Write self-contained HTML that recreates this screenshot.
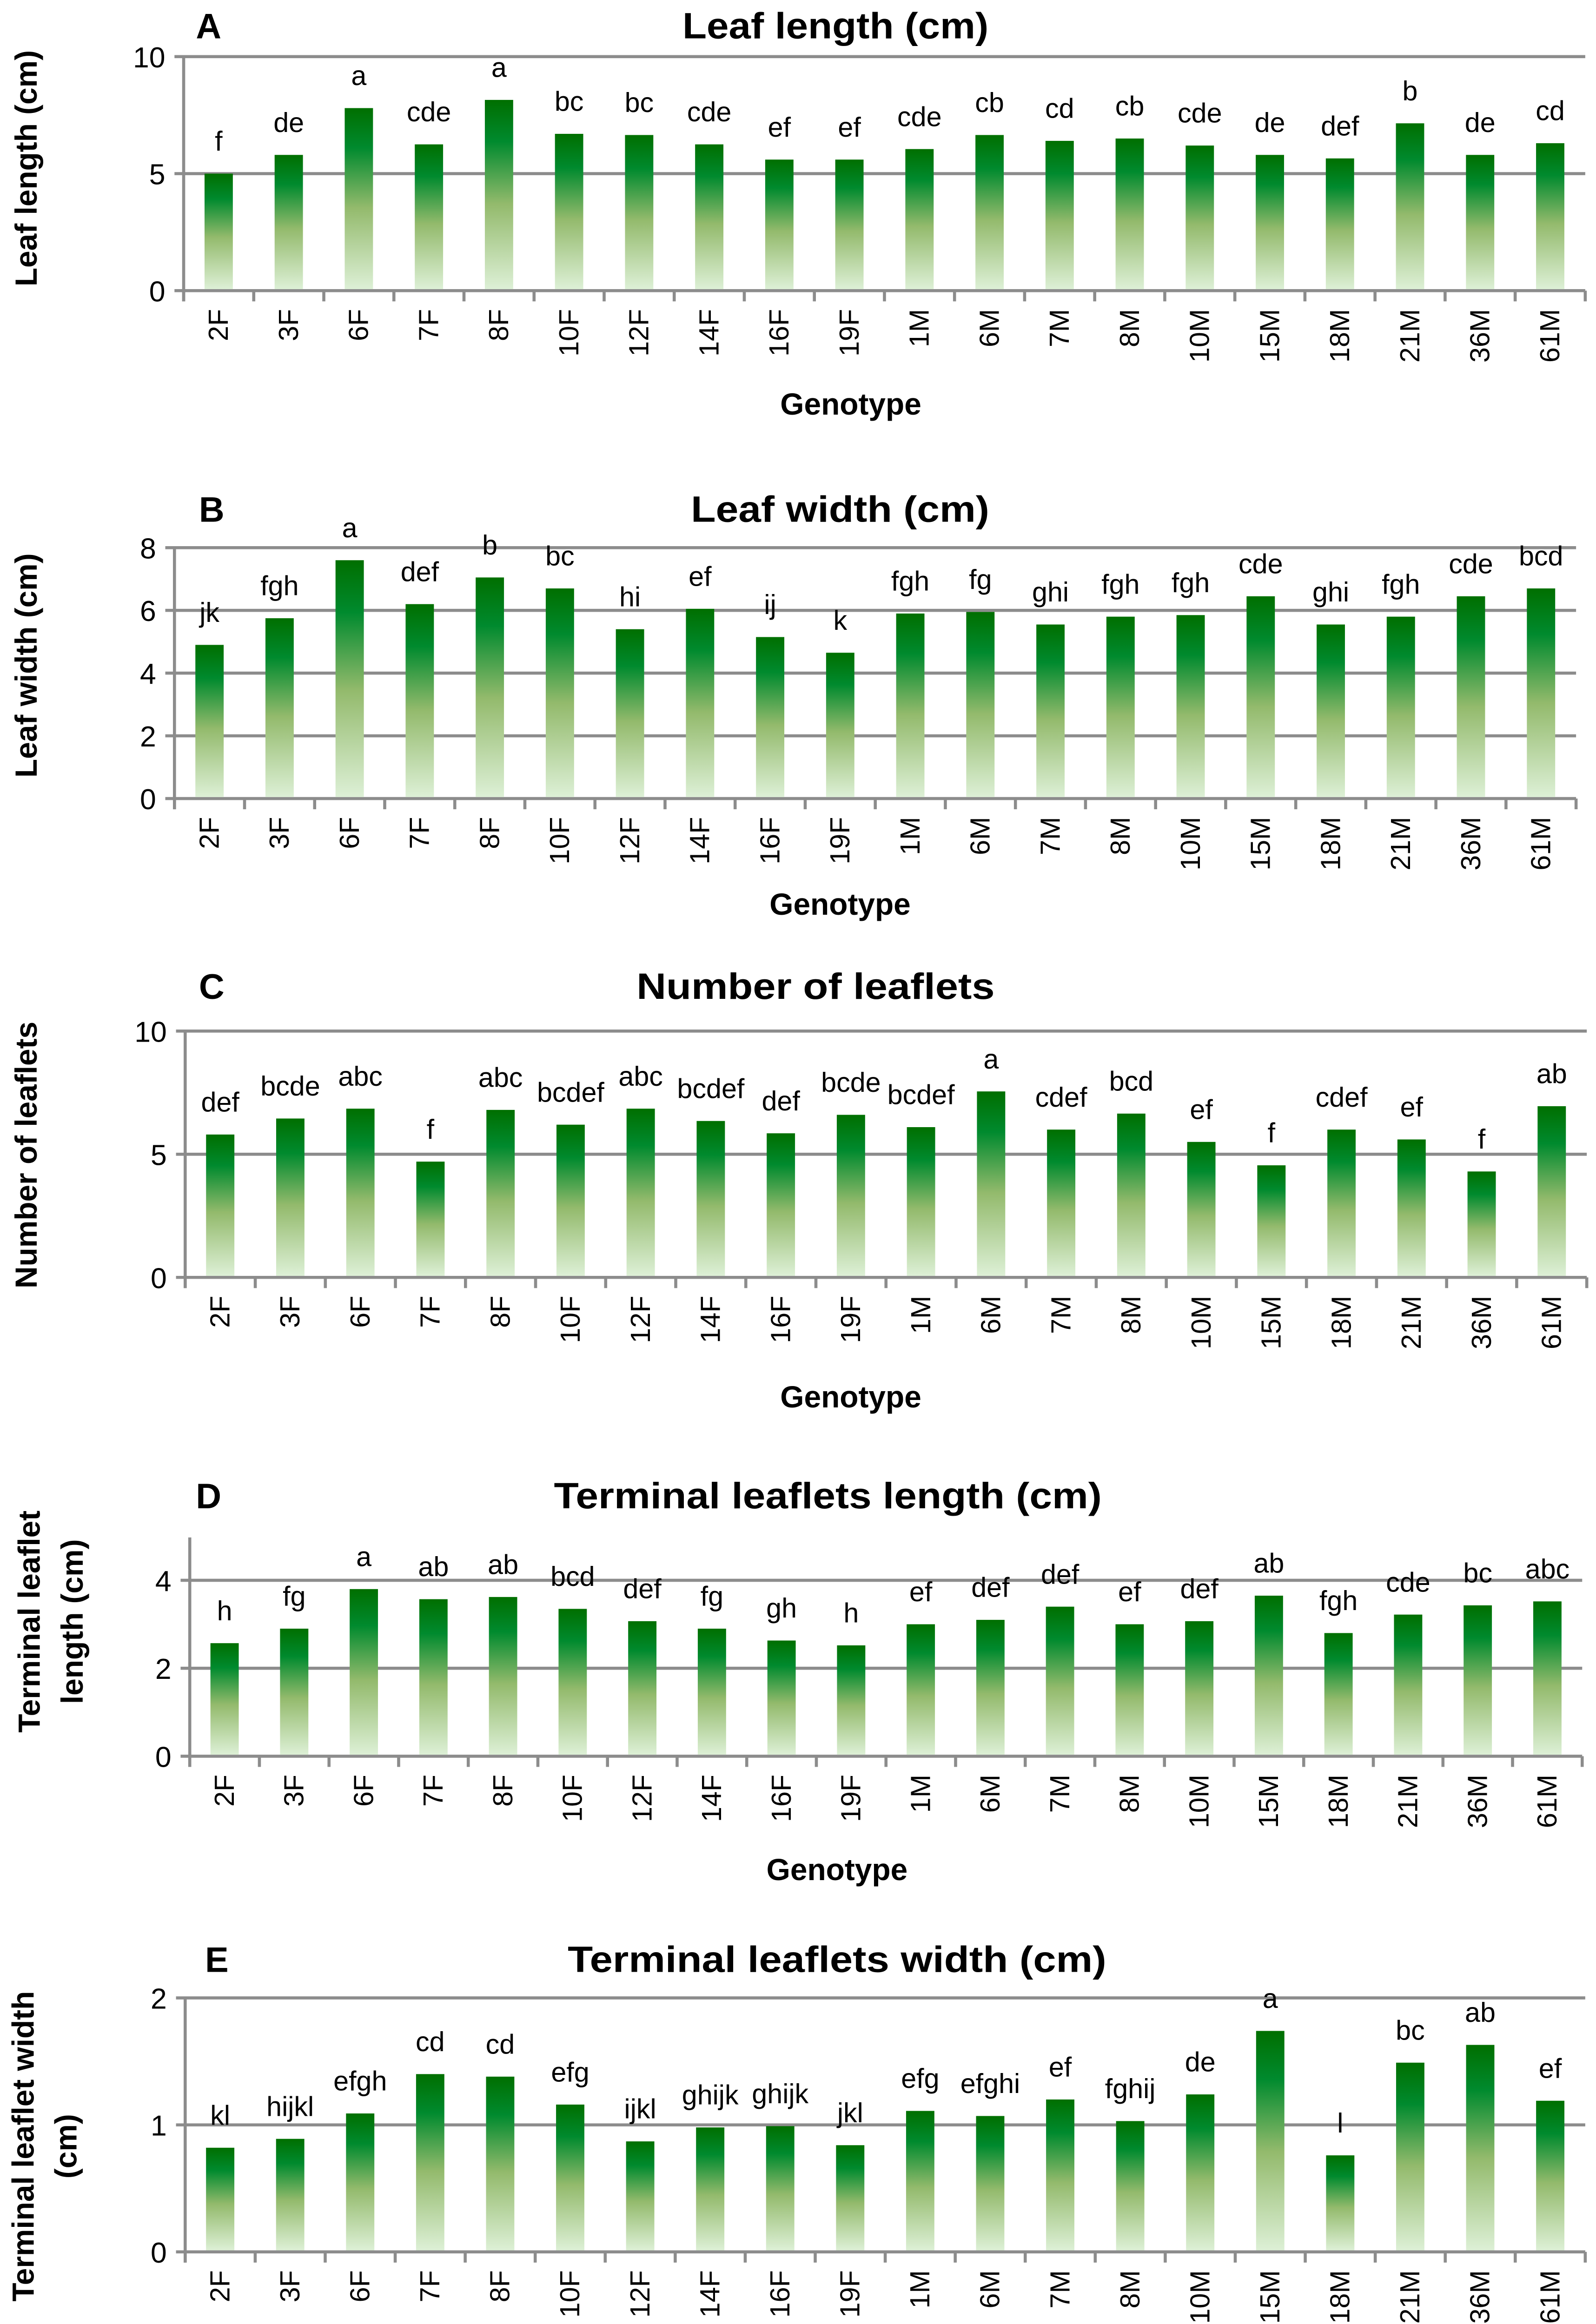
<!DOCTYPE html>
<html><head><meta charset="utf-8"><style>
html,body{margin:0;padding:0;background:#fff;overflow:hidden;width:3433px;height:5141px}
svg{display:block}
text{font-family:"Liberation Sans",sans-serif;fill:#000}
</style></head><body>
<svg id="fig" xmlns="http://www.w3.org/2000/svg" width="3433" height="5141" viewBox="0 0 1043 1562" overflow="hidden">
<defs>
<linearGradient id="barGrad" x1="0" y1="0" x2="0" y2="1">
<stop offset="0" stop-color="#006f00"/>
<stop offset="0.22" stop-color="#008a2e"/>
<stop offset="0.55" stop-color="#93ba6c"/>
<stop offset="1" stop-color="#ddf0d6"/>
</linearGradient>
</defs>
</svg>
<script>
const categories=["2F","3F","6F","7F","8F","10F","12F","14F","16F","19F","1M","6M","7M","8M","10M","15M","18M","21M","36M","61M"];
const valuesA=[5.0,5.8,7.8,6.25,8.15,6.7,6.65,6.25,5.6,5.6,6.05,6.65,6.4,6.5,6.2,5.8,5.65,7.15,5.8,6.3];
const lettersA=["f","de","a","cde","a","bc","bc","cde","ef","ef","cde","cb","cd","cb","cde","de","def","b","de","cd"];
const ticksA=[0,5,10];
const valuesB=[4.9,5.75,7.6,6.2,7.05,6.7,5.4,6.05,5.15,4.65,5.9,5.95,5.55,5.8,5.85,6.45,5.55,5.8,6.45,6.7];
const lettersB=["jk","fgh","a","def","b","bc","hi","ef","ij","k","fgh","fg","ghi","fgh","fgh","cde","ghi","fgh","cde","bcd"];
const ticksB=[0,2,4,6,8];
const valuesC=[5.8,6.45,6.85,4.7,6.8,6.2,6.85,6.35,5.85,6.6,6.1,7.55,6.0,6.65,5.5,4.55,6.0,5.6,4.3,6.95];
const lettersC=["def","bcde","abc","f","abc","bcdef","abc","bcdef","def","bcde","bcdef","a","cdef","bcd","ef","f","cdef","ef","f","ab"];
const ticksC=[0,5,10];
const valuesD=[2.57,2.9,3.8,3.57,3.62,3.35,3.07,2.9,2.63,2.52,3.0,3.1,3.4,3.0,3.07,3.65,2.8,3.22,3.43,3.52];
const lettersD=["h","fg","a","ab","ab","bcd","def","fg","gh","h","ef","def","def","ef","def","ab","fgh","cde","bc","abc"];
const ticksD=[0,2,4];
const valuesE=[0.82,0.89,1.09,1.40,1.38,1.16,0.87,0.98,0.99,0.84,1.11,1.07,1.20,1.03,1.24,1.74,0.76,1.49,1.63,1.19];
const lettersE=["kl","hijkl","efgh","cd","cd","efg","ijkl","ghijk","ghijk","jkl","efg","efghi","ef","fghij","de","a","l","bc","ab","ef"];
const ticksE=[0,1,2];

const NS="http://www.w3.org/2000/svg";
const svg=document.getElementById('fig');
function mk(tag,attrs,parent,txt){const e=document.createElementNS(NS,tag);for(const k in attrs)e.setAttribute(k,attrs[k]);if(txt!==undefined)e.textContent=txt;parent.appendChild(e);return e;}

function chart(cfg){
  const g=mk('g',{},svg);
  
  
  const L=cfg.left,R=cfg.right,T=cfg.top,B=cfg.bottom;
  const maxV=cfg.max;
  const y=v=>B-(v/maxV)*(B-T);
  const n=categories.length, step=(R-L)/n;
  const x=i=>L+step*(i+0.5);
  cfg.ticks.forEach(t=>{
    const yy=y(t);
    const ln=mk('line',{x1:L-6,x2:R,y1:yy,y2:yy,stroke:'#8c8c8c','stroke-width':2},g);
    
    
    const tl=mk('text',{x:L-12,y:yy+7,'text-anchor':'end','font-size':19},g,String(t));
    
    
  });
  const ax=mk('line',{x1:L,x2:L,y1:cfg.axisTop,y2:B+7,stroke:'#8c8c8c','stroke-width':2},g);
  
  
  for(let i=0;i<=n;i++){
    const tk=mk('line',{x1:L+step*i,x2:L+step*i,y1:B,y2:B+7,stroke:'#8c8c8c','stroke-width':2},g);
    
    
  }
  const bw=18.5;
  cfg.values.forEach((v,i)=>{
    const r=mk('rect',{x:x(i)-bw/2,y:y(v),width:bw,height:B-y(v)-1,fill:'url(#barGrad)'},g);
    
    
    const lt=mk('text',{x:x(i),y:y(v)-15,'text-anchor':'middle','font-size':18},g,cfg.letters[i]);
    
    
    const cx=x(i)+6, cy=B+12;
    const ct=mk('text',{x:cx,y:cy,'text-anchor':'end','font-size':18,transform:`rotate(-90 ${cx} ${cy})`},g,categories[i]);
    
    
  });
  const tt=mk('text',{x:cfg.titleX,y:cfg.titleY,'text-anchor':'middle','font-size':24,'font-weight':'bold','textLength':cfg.titleW,'lengthAdjust':'spacingAndGlyphs'},g,cfg.title);
  
  
  const pl=mk('text',{x:cfg.letterX,y:cfg.titleY,'font-size':23,'font-weight':'bold'},g,cfg.id);
  
  
  const xt=mk('text',{x:cfg.genX,y:cfg.genY,'text-anchor':'middle','font-size':20,'font-weight':'bold'},g,'Genotype');
  
  
  cfg.ylab.forEach((s,k)=>{
    const lx=cfg.ylabX[k], ly=cfg.ylabY;
    const yt=mk('text',{x:lx,y:ly,'text-anchor':'middle','font-size':20,'font-weight':'bold',transform:`rotate(-90 ${lx} ${ly})`},g,s);
    
    
  });
}

chart({id:'A',values:valuesA,letters:lettersA,ticks:ticksA,max:10,left:120,right:1036,top:37,bottom:190,axisTop:37,
  title:'Leaf length (cm)',titleX:546,titleY:25,titleW:200,letterX:128,genX:556,genY:271,ylab:['Leaf length (cm)'],ylabX:[24],ylabY:110});
chart({id:'B',values:valuesB,letters:lettersB,ticks:ticksB,max:8,left:114,right:1030,top:358,bottom:522,axisTop:358,
  title:'Leaf width (cm)',titleX:549,titleY:341,titleW:195,letterX:130,genX:549,genY:598,ylab:['Leaf  width (cm)'],ylabX:[24],ylabY:435});
chart({id:'C',values:valuesC,letters:lettersC,ticks:ticksC,max:10,left:121,right:1037,top:674,bottom:835,axisTop:674,
  title:'Number of leaflets',titleX:533,titleY:653,titleW:234,letterX:130,genX:556,genY:920,ylab:['Number of leaflets'],ylabX:[24],ylabY:755});
chart({id:'D',values:valuesD,letters:lettersD,ticks:ticksD,max:4,left:124,right:1034,top:1033,bottom:1148,axisTop:1005,
  title:'Terminal leaflets length (cm)',titleX:541,titleY:986,titleW:358,letterX:128,genX:547,genY:1229,ylab:['Terminal leaflet','length (cm)'],ylabX:[26,54],ylabY:1060});
chart({id:'E',values:valuesE,letters:lettersE,ticks:ticksE,max:2,left:121,right:1036,top:1306,bottom:1472,axisTop:1306,
  title:'Terminal leaflets width (cm)',titleX:547,titleY:1289,titleW:352,letterX:134,genX:564,genY:1553,ylab:['Terminal leaflet width','(cm)'],ylabX:[22,50],ylabY:1403});
</script>
</body></html>
